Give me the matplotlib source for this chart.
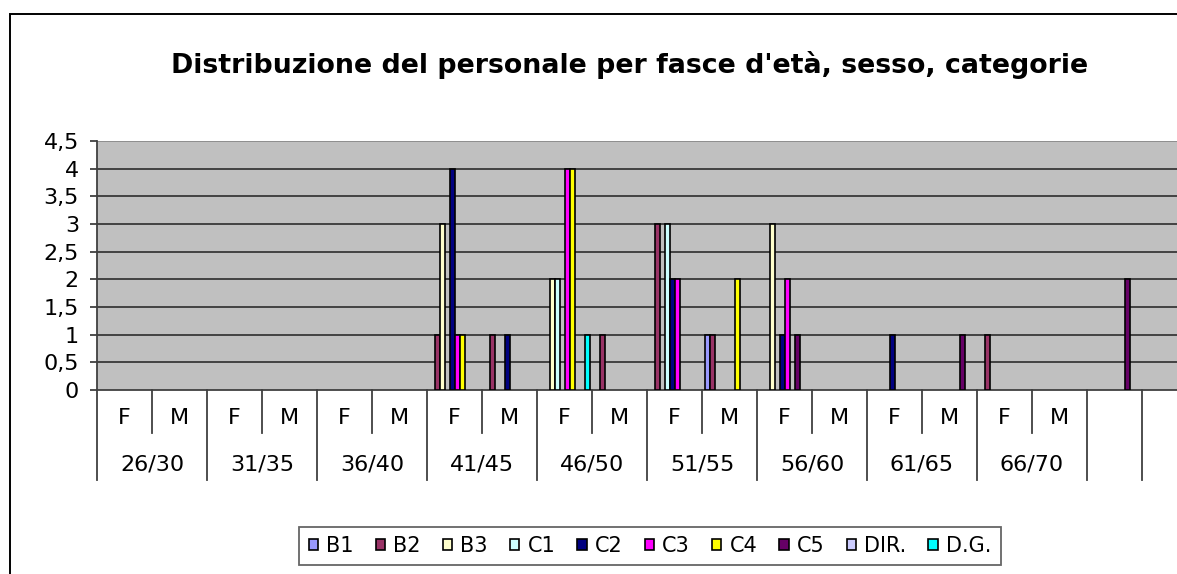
import numpy as np
import matplotlib
matplotlib.use("Agg")
import matplotlib.pyplot as plt
from matplotlib.patches import Patch, Rectangle
from matplotlib.lines import Line2D
import matplotlib.transforms as mtransforms

plt.rcParams['font.family'] = ['DejaVu Sans']

# ---------------- data ----------------
title = "Distribuzione del personale per fasce d'età, sesso, categorie"
age_groups = ['26/30', '31/35', '36/40', '41/45', '46/50', '51/55', '56/60', '61/65', '66/70']
sexes = ['F', 'M']
n_blank = 2  # trailing unlabeled categories

series_names = ['B1', 'B2', 'B3', 'C1', 'C2', 'C3', 'C4', 'C5', 'DIR.', 'D.G.']
series_colors = ['#9999FF', '#993366', '#FFFFCC', '#CCFFFF', '#000080',
                 '#FF00FF', '#FFFF00', '#660066', '#CCCCFF', '#00FFFF']

#        26/30 31/35 36/40 41/45 46/50 51/55 56/60 61/65 66/70  blank
B1   = [0, 0, 0, 0, 0, 0, 0, 0, 0, 0, 0, 1, 0, 0, 0, 0, 0, 0, 0, 0]
B2   = [0, 0, 0, 0, 0, 0, 1, 1, 0, 1, 3, 1, 0, 0, 0, 0, 1, 0, 0, 0]
B3   = [0, 0, 0, 0, 0, 0, 3, 0, 2, 0, 0, 0, 3, 0, 0, 0, 0, 0, 0, 0]
C1   = [0, 0, 0, 0, 0, 0, 0, 0, 2, 0, 3, 0, 0, 0, 0, 0, 0, 0, 0, 0]
C2   = [0, 0, 0, 0, 0, 0, 4, 1, 0, 0, 2, 0, 1, 0, 1, 0, 0, 0, 0, 0]
C3   = [0, 0, 0, 0, 0, 0, 1, 0, 4, 0, 2, 0, 2, 0, 0, 0, 0, 0, 0, 0]
C4   = [0, 0, 0, 0, 0, 0, 1, 0, 4, 0, 0, 2, 0, 0, 0, 0, 0, 0, 0, 0]
C5   = [0, 0, 0, 0, 0, 0, 0, 0, 0, 0, 0, 0, 1, 0, 0, 1, 0, 0, 2, 0]
DIR  = [0, 0, 0, 0, 0, 0, 0, 0, 0, 0, 0, 0, 0, 0, 0, 0, 0, 0, 0, 0]
DG   = [0, 0, 0, 0, 0, 0, 0, 0, 1, 0, 0, 0, 0, 0, 0, 0, 0, 0, 0, 0]
series_values = [B1, B2, B3, C1, C2, C3, C4, C5, DIR, DG]

y_ticks = [0, 0.5, 1, 1.5, 2, 2.5, 3, 3.5, 4, 4.5]

# ---------------- layout ----------------
W, H = 1177, 574
fig = plt.figure(figsize=(W / 100, H / 100), dpi=100)
fig.patch.set_facecolor('white')

n_cats = len(age_groups) * len(sexes) + n_blank
cat_w_px = 55
ax_left, ax_top, ax_bottom = 97, 141, 390
ax = fig.add_axes([ax_left / W, (H - ax_bottom) / H, n_cats * cat_w_px / W, (ax_bottom - ax_top) / H])
ax.set_facecolor('#C0C0C0')
ax.set_xlim(0, n_cats)
ax.set_ylim(0, 4.5)

# gridlines
for yv in y_ticks[1:]:
    ax.axhline(yv, color='#8A8A8A' if yv == 4.5 else '#383838', lw=1.3, zorder=1)

# bars
n_s = len(series_names)
slot = 1.0 / (n_s + 1)
for j, (vals, col) in enumerate(zip(series_values, series_colors)):
    vals = np.asarray(vals, dtype=float)
    idx = np.nonzero(vals > 0)[0]
    xs = idx + (0.5 + j) * slot
    ax.bar(xs, vals[idx], width=slot, align='edge', color=col,
           edgecolor='black', linewidth=1.2, zorder=3)

# axes styling
for s in ['top', 'right']:
    ax.spines[s].set_visible(False)
ax.spines['left'].set_color('#404040')
ax.spines['bottom'].set_color('#404040')
ax.spines['left'].set_linewidth(1.3)
ax.spines['bottom'].set_linewidth(1.3)
ax.set_yticks(y_ticks)
ax.set_yticklabels([('%g' % v).replace('.', ',') for v in y_ticks], fontsize=16)
ax.tick_params(axis='y', direction='out', length=5, width=1.3, color='#404040', pad=8)
ax.set_xticks([])

# category axis (two-level labels)
trans = mtransforms.blended_transform_factory(ax.transData, ax.transAxes)
ax_h = ax_bottom - ax_top
def yfrac(py):
    return (ax_bottom - py) / ax_h

y_inner = yfrac(433)
y_outer = yfrac(480)
line_kw = dict(color='#404040', lw=1.3, transform=trans, clip_on=False)
n_lab = len(age_groups) * len(sexes)
for b in range(n_cats + 1):
    if b < n_lab and b % 2 == 1:
        ax.add_line(Line2D([b, b], [0, y_inner], **line_kw))
    else:
        ax.add_line(Line2D([b, b], [0, y_outer], **line_kw))

for g, age in enumerate(age_groups):
    for k, sx in enumerate(sexes):
        ax.text(g * 2 + k + 0.5, yfrac(418), sx, transform=trans, ha='center',
                va='center', fontsize=16, clip_on=False)
    ax.text(g * 2 + 1, yfrac(465), age, transform=trans, ha='center',
            va='center', fontsize=16, clip_on=False)

# title
fig.text(630 / W, 1 - 65 / H, title, ha='center', va='center', fontsize=19.3,
         fontweight='bold')

# chart frame
fig.add_artist(Rectangle((10 / W, -0.1), 1.2, 1 - 14 / H + 0.1, transform=fig.transFigure,
                         fill=False, edgecolor='black', lw=1.4))

# legend
handles = [Patch(facecolor=c, edgecolor='black', linewidth=1.2) for c in series_colors]
leg = fig.legend(handles, series_names, loc='center', bbox_to_anchor=(650 / W, 1 - 546 / H),
                 ncol=n_s, fontsize=15, frameon=True, fancybox=False, shadow=False,
                 handlelength=0.45, handleheight=0.45, handletextpad=0.4,
                 columnspacing=1.05, borderpad=0.45, borderaxespad=0)
leg.get_frame().set_edgecolor('#404040')
leg.get_frame().set_linewidth(1.3)

fig.savefig('out.png', dpi=100, facecolor='white')
